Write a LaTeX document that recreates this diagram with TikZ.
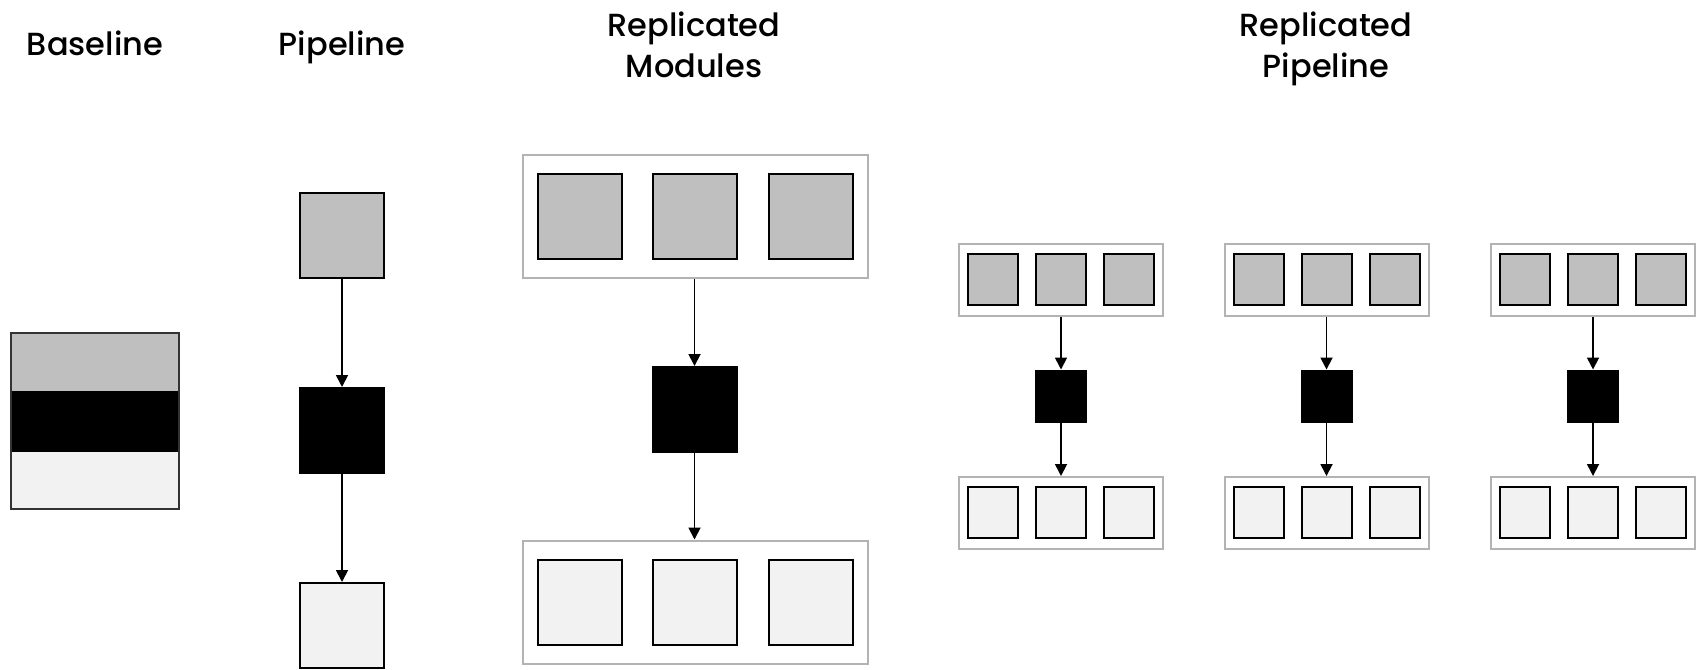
\documentclass[tikz,border=0pt]{standalone}
\usepackage{fontspec}
\IfFontExistsTF{Poppins Medium}{\setmainfont{Poppins Medium}}{\setmainfont{Poppins}}
\usetikzlibrary{arrows.meta}

\definecolor{modgray}{HTML}{BFBFBF}
\definecolor{modlight}{HTML}{F2F2F2}
\definecolor{grpline}{HTML}{B3B3B3}

\begin{document}
\begin{tikzpicture}[x = .5pt, y = -.5pt,
		mod/.style = {draw, line width = 1pt, inner sep = 0pt},
		big/.style = {mod, minimum width = 42pt, minimum height = 42.5pt},
		small/.style = {mod, minimum width = 25pt, minimum height = 25.5pt},
		grp/.style = {draw = grpline, line width = 1pt, inner sep = 0pt},
		band/.style = {inner sep = 0pt, minimum width = 84pt},
		title/.style = {font = \fontsize{16}{20.5}\selectfont, align = center, anchor = base},
		flow/.style = {-{Triangle[width = 6pt, length = 6pt]}, line width = .9pt}]
		\useasboundingbox (0,0) rectangle (1700,669);
		\clip (0,0) rectangle (1700,669);
		
		% column titles (base = last line)
		\node (tB) at (95,55) [title] {Baseline};
		\node (tP) at (342,55) [title] {Pipeline};
		\node (tM) at (694,77) [title] {Replicated\\Modules};
		\node (tR) at (1326,77) [title] {Replicated\\Pipeline};
		
		% baseline: one block
		\node (B1) at (95,362) [band, minimum height = 29pt, fill = modgray] {};
		\node (B2) at (95,421.5) [band, minimum height = 30.5pt, fill = black] {};
		\node (B3) at (95,480.5) [band, minimum height = 28.5pt, fill = modlight] {};
		\draw [line width = 1pt, black!80] (B1.north west) rectangle (B3.south east);
		
		% pipeline
		\node (P1) at (342,235.5) [big, fill = modgray] {};
		\node (P2) at (342,430.5) [big, fill = black] {};
		\node (P3) at (342,625.5) [big, fill = modlight] {};
		\draw [flow] (P1) -- (P2);
		\draw [flow] (P2) -- (P3);
		
		% replicated modules
		\node (Min) at (695.5,216.5) [grp, minimum width = 172.5pt, minimum height = 61.5pt] {};
		\node (Min1) at (579.5,216.5) [big, fill = modgray] {};
		\node (Min2) at (694.5,216.5) [big, fill = modgray] {};
		\node (Min3) at (810.5,216.5) [big, fill = modgray] {};
		\node (Mmid) at (694.5,409.5) [big, fill = black] {};
		\node (Mout) at (695.5,602) [grp, minimum width = 172.5pt, minimum height = 61.5pt] {};
		\node (Mout1) at (579.5,602) [big, fill = modlight] {};
		\node (Mout2) at (694.5,602) [big, fill = modlight] {};
		\node (Mout3) at (810.5,602) [big, fill = modlight] {};
		\draw [flow] (Min.south -| Mmid) -- (Mmid);
		\draw [flow] (Mmid) -- (Mout.north -| Mmid);
		
		% replicated pipeline, three copies
		\foreach \g/\x in {1/1061, 2/1326.5, 3/1593} {
			\node (R\g in) at (\x,280) [grp, minimum width = 102pt, minimum height = 36pt] {};
			\node (R\g in1) at (\x-68,279.5) [small, fill = modgray] {};
			\node (R\g in2) at (\x,279.5) [small, fill = modgray] {};
			\node (R\g in3) at (\x+68,279.5) [small, fill = modgray] {};
			\node (R\g mid) at (\x,396) [small, fill = black] {};
			\node (R\g out) at (\x,513) [grp, minimum width = 102pt, minimum height = 36pt] {};
			\node (R\g out1) at (\x-68,512) [small, fill = modlight] {};
			\node (R\g out2) at (\x,512) [small, fill = modlight] {};
			\node (R\g out3) at (\x+68,512) [small, fill = modlight] {};
			\draw [flow] (R\g in) -- (R\g mid);
			\draw [flow] (R\g mid) -- (R\g out);
		}
\end{tikzpicture}
\end{document}
